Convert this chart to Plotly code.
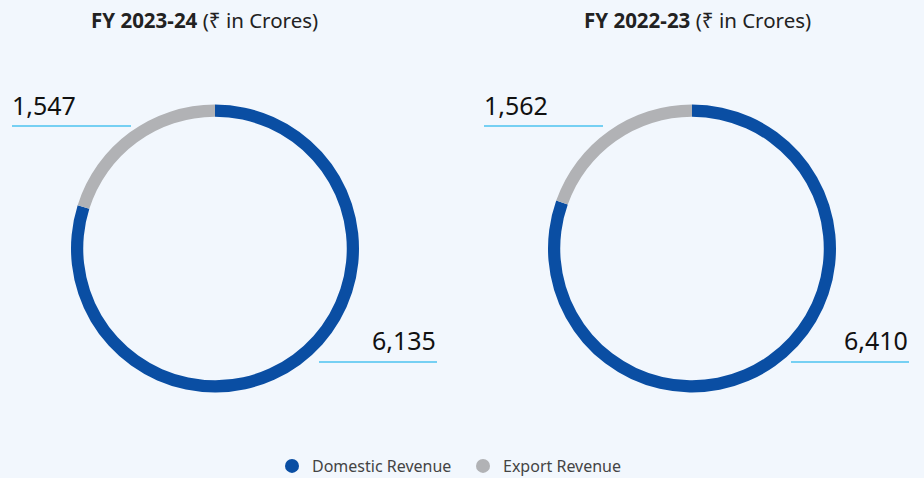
import plotly.graph_objects as go

W, H = 924, 478
categories = ["Domestic Revenue", "Export Revenue"]
years = ["FY 2023-24", "FY 2022-23"]
domestic = [6135, 6410]
export = [1547, 1562]
colors = ["#0a4ea3", "#b1b2b5"]
bg = "#f2f7fd"
font = "Noto Sans"

def px(x):
    return x / W

def py(y):
    return 1 - y / H

fig = go.Figure()

centers = [215, 692]
left_line_x0 = [12, 484]
right_line_x1 = [437, 909]
cy, r = 248.5, 144
for i, yr in enumerate(years):
    cx = centers[i]
    fig.add_trace(go.Pie(
        labels=categories,
        values=[domestic[i], export[i]],
        marker=dict(colors=colors, line=dict(width=0)),
        hole=0.915,
        sort=False,
        direction="clockwise",
        rotation=0,
        textinfo="none",
        hoverinfo="label+value",
        showlegend=False,
        domain=dict(x=[px(cx - r), px(cx + r)], y=[py(cy + r), py(cy - r)]),
    ))

# legend proxies
for c, col in zip(categories, colors):
    fig.add_trace(go.Scatter(
        x=[None], y=[None], mode="markers", name=c,
        marker=dict(color=col, size=14, symbol="circle"),
    ))

line_col = "#4cc3ef"
annotations = []
shapes = []
title_x = [204, 697]
for i, yr in enumerate(years):
    annotations.append(dict(
        x=px(title_x[i]), y=py(20), xref="paper", yref="paper",
        text=f"<b>{yr}</b> (₹ in Crores)", showarrow=False,
        font=dict(family=font, size=20.5, color="#222"),
        xanchor="center", yanchor="middle",
    ))
    lx0 = left_line_x0[i]
    annotations.append(dict(
        x=px(lx0 - 2), y=py(105), xref="paper", yref="paper",
        text=f"{export[i]:,}", showarrow=False,
        font=dict(family=font, size=25, color="#111"),
        xanchor="left", yanchor="middle",
    ))
    shapes.append(dict(type="line", xref="paper", yref="paper",
                       x0=px(lx0), x1=px(lx0 + 119), y0=py(126), y1=py(126),
                       line=dict(color=line_col, width=1.5)))
    rx1 = right_line_x1[i]
    annotations.append(dict(
        x=px(rx1 + 1), y=py(340), xref="paper", yref="paper",
        text=f"{domestic[i]:,}", showarrow=False,
        font=dict(family=font, size=25, color="#111"),
        xanchor="right", yanchor="middle",
    ))
    shapes.append(dict(type="line", xref="paper", yref="paper",
                       x0=px(rx1 - 118), x1=px(rx1), y0=py(362), y1=py(362),
                       line=dict(color=line_col, width=1.5)))

fig.update_layout(
    width=W, height=H,
    margin=dict(l=0, r=0, t=0, b=0, autoexpand=False),
    paper_bgcolor=bg, plot_bgcolor=bg,
    xaxis=dict(visible=False), yaxis=dict(visible=False),
    annotations=annotations, shapes=shapes,
    legend=dict(orientation="h", x=px(463), xanchor="center", y=py(466), yanchor="middle",
                font=dict(family=font, size=16, color="#444"),
                bgcolor="rgba(0,0,0,0)", itemwidth=30,
                entrywidth=146, entrywidthmode="pixels"),
    showlegend=True,
)

fig.write_html("out.html", config={"displayModeBar": False})
with open("out.html", encoding="utf-8") as f:
    html = f.read()
html = html.replace("<head>", "<head><style>html,body{margin:0;padding:0;background:%s;}</style>" % bg, 1)
with open("out.html", "w", encoding="utf-8") as f:
    f.write(html)
